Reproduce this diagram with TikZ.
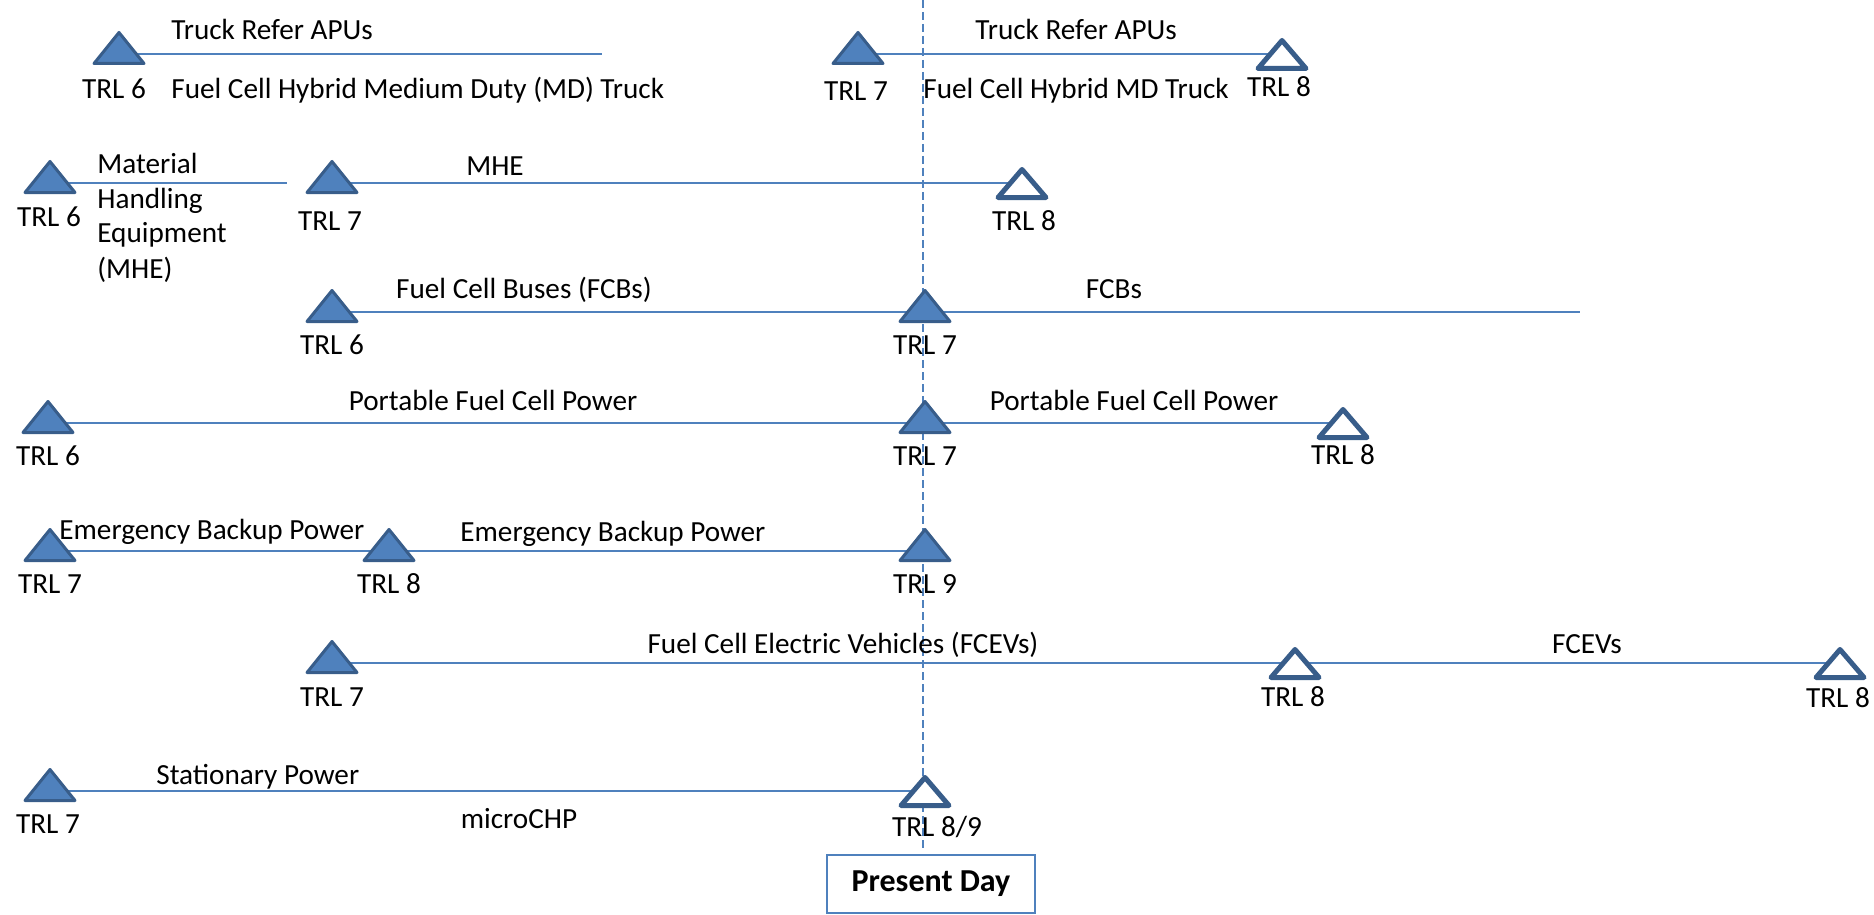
\documentclass[tikz,border=0pt]{standalone}
\usepackage{fontspec}
\setmainfont{Carlito}
\definecolor{lineC}{HTML}{4F81BD}
\definecolor{triF}{HTML}{4F81BD}
\definecolor{triD}{HTML}{385D8A}
\tikzset{
  ftri/.pic={\draw[fill=triF, draw=triD, line width=1.5pt, line join=round] (-25,9.5) -- (25,9.5) -- (0,-21.5) -- cycle;},
  otri/.pic={\draw[fill=white, draw=triD, line width=2.5pt, line join=round] (-24,14.5) -- (24,14.5) -- (0,-13.5) -- cycle;},
  tl/.style={draw=lineC, line width=1.25pt},
  lbl/.style={font=\fontsize{14.6}{17.5}\selectfont, inner sep=0pt, anchor=base},
  lblw/.style={lbl, anchor=base west},
  dashln/.style={draw=lineC, line width=1pt, dash pattern=on 4pt off 2pt},
  pdbox/.style={draw=lineC, line width=1pt, fill=white, minimum width=104pt, minimum height=29pt, inner sep=0pt, font=\fontsize{16}{19}\selectfont\bfseries}
}
\begin{document}
\begin{tikzpicture}[x=0.5pt,y=-0.5pt]
\useasboundingbox (0,0) rectangle (1874,915);

% present day marker
\coordinate (dtop) at (923,0);
\coordinate (dbot) at (923,848);
\draw[dashln] (dtop) -- (dbot);
\node[pdbox] (pd) at (931,884) {Present Day};

% anchor points of milestones
\coordinate (a1) at (119,54);  \coordinate (a1e) at (602,54);
\coordinate (b1) at (858,54);  \coordinate (b2) at (1282,54);
\coordinate (c1) at (50,183);  \coordinate (c1e) at (287,183);
\coordinate (c2) at (332,183); \coordinate (c3) at (1022,183);
\coordinate (d1) at (332,312); \coordinate (d2) at (925,312); \coordinate (d3) at (1580,312);
\coordinate (e1) at (48,423);  \coordinate (e2) at (925,423); \coordinate (e3) at (1343,423);
\coordinate (f1) at (50,551);  \coordinate (f2) at (389,551); \coordinate (f3) at (925,551);
\coordinate (g1) at (332,663); \coordinate (g2) at (1295,663); \coordinate (g3) at (1840,663);
\coordinate (h1) at (50,791);  \coordinate (h2) at (925,791);

% timelines
\draw[tl] (a1) -- (a1e);
\draw[tl] (b1) -- (b2);
\draw[tl] (c1) -- (c1e);
\draw[tl] (c2) -- (c3);
\draw[tl] (d1) -- (d2) -- (d3);
\draw[tl] (e1) -- (e2) -- (e3);
\draw[tl] (f1) -- (f2) -- (f3);
\draw[tl] (g1) -- (g2) -- (g3);
\draw[tl] (h1) -- (h2);

% milestones
\pic at (a1) {ftri}; \pic at (b1) {ftri}; \pic at (b2) {otri};
\pic at (c1) {ftri}; \pic at (c2) {ftri}; \pic at (c3) {otri};
\pic at (d1) {ftri}; \pic at (d2) {ftri};
\pic at (e1) {ftri}; \pic at (e2) {ftri}; \pic at (e3) {otri};
\pic at (f1) {ftri}; \pic at (f2) {ftri}; \pic at (f3) {ftri};
\pic at (g1) {ftri}; \pic at (g2) {otri}; \pic at (g3) {otri};
\pic at (h1) {ftri}; \pic at (h2) {otri};

% row 1
\node[lblw] (t1) at (171,40) {Truck Refer APUs};
\node[lblw] (t2) at (171,98) {Fuel Cell Hybrid Medium Duty (MD) Truck};
\node[lbl] (t3) at (114,98) {TRL 6};
\node[lblw] (t4) at (975,40) {Truck Refer APUs};
\node[lblw] (t5) at (923,99) {Fuel Cell Hybrid MD Truck};
\node[lbl] (t6) at (856,101) {TRL 7};
\node[lbl] (t7) at (1279,97) {TRL 8};
% row 2 (base anchor of a multi-line node = baseline of its last line)
\node[lblw, align=left] (t8) at (97,278) {Material\\Handling\\Equipment\\(MHE)};
\node[lbl] (t9) at (49,226) {TRL 6};
\node[lbl] (t10) at (330,230) {TRL 7};
\node[lbl] (t11) at (495,176) {MHE};
\node[lbl] (t12) at (1024,230) {TRL 8};
% row 3
\node[lbl] (t13) at (524,298) {Fuel Cell Buses (FCBs)};
\node[lbl] (t14) at (332,354) {TRL 6};
\node[lbl] (t15) at (925,354) {TRL 7};
\node[lbl] (t16) at (1114,298) {FCBs};
% row 4
\node[lbl] (t17) at (493,410) {Portable Fuel Cell Power};
\node[lbl] (t18) at (48,465) {TRL 6};
\node[lbl] (t19) at (925,465) {TRL 7};
\node[lbl] (t20) at (1134,410) {Portable Fuel Cell Power};
\node[lbl] (t21) at (1343,464) {TRL 8};
% row 5
\node[lblw] (t22) at (59,539) {Emergency Backup Power};
\node[lblw] (t23) at (460,541) {Emergency Backup Power};
\node[lbl] (t24) at (50,593) {TRL 7};
\node[lbl] (t25) at (389,593) {TRL 8};
\node[lbl] (t26) at (925,593) {TRL 9};
% row 6
\node[lbl] (t27) at (843,653) {Fuel Cell Electric Vehicles (FCEVs)};
\node[lbl] (t28) at (1587,653) {FCEVs};
\node[lbl] (t29) at (332,706) {TRL 7};
\node[lbl] (t30) at (1293,706) {TRL 8};
\node[lbl] (t31) at (1838,707) {TRL 8};
% row 7
\node[lblw] (t32) at (156,784) {Stationary Power};
\node[lbl] (t33) at (519,828) {microCHP};
\node[lbl] (t34) at (48,833) {TRL 7};
\node[lbl] (t35) at (937,836) {TRL 8/9};
\end{tikzpicture}
\end{document}
